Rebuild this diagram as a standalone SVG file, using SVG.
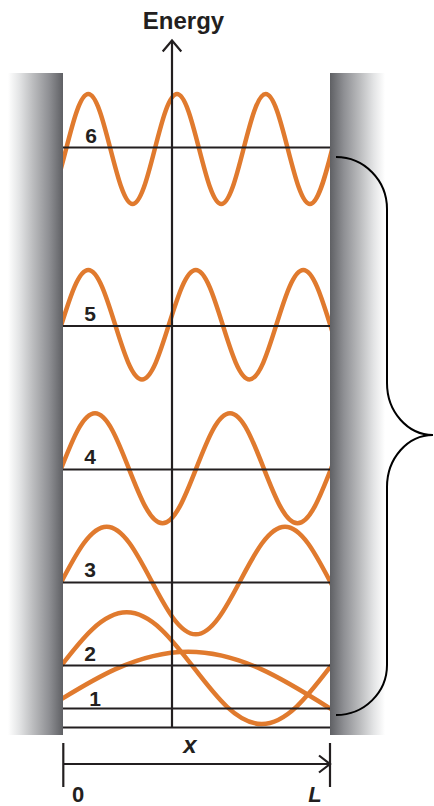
<svg xmlns="http://www.w3.org/2000/svg" width="434" height="806" viewBox="0 0 434 806">
<style>
.wave{fill:none;stroke:#e07a2e;stroke-width:4.5;stroke-linecap:butt}
.ln{fill:none;stroke:#231f20;stroke-width:2.2}
.num{font-family:"Liberation Sans",Arial,sans-serif;font-weight:bold;font-size:21px;fill:#231f20;text-anchor:middle}
.lab{font-family:"Liberation Sans",Arial,sans-serif;font-weight:bold;fill:#231f20;text-anchor:middle}
.brace{fill:none;stroke:#000;stroke-width:2}
</style>
<defs>
<linearGradient id="gl" x1="0" y1="0" x2="1" y2="0">
<stop offset="0" stop-color="#ffffff"/>
<stop offset="0.2" stop-color="#e4e5e6"/>
<stop offset="0.45" stop-color="#bcbdbf"/>
<stop offset="0.75" stop-color="#8e8f93"/>
<stop offset="1" stop-color="#5f6064"/>
</linearGradient>
<linearGradient id="gr" x1="0" y1="0" x2="1" y2="0">
<stop offset="0" stop-color="#5f6064"/>
<stop offset="0.25" stop-color="#8e8f93"/>
<stop offset="0.55" stop-color="#bcbdbf"/>
<stop offset="0.8" stop-color="#e4e5e6"/>
<stop offset="1" stop-color="#ffffff"/>
</linearGradient>
<clipPath id="box"><rect x="63" y="0" width="267" height="806"/></clipPath>
</defs>

<g id="walls">
<rect x="8" y="73" width="55" height="662" fill="url(#gl)"/>
<rect x="330" y="73" width="55" height="662" fill="url(#gr)"/>
</g>

<g id="waves" clip-path="url(#box)">
<path id="wave6" class="wave" d="M43.9,204 C51.9,204 58.9,177.2 66.1,149 S80.3,94 88.3,94 S103.2,120.8 110.45,149 S124.6,204 132.6,204 S147.6,177.2 154.8,149 S169,94 177,94 S191.9,120.8 199.15,149 S213.3,204 221.3,204 S236.3,177.2 243.5,149 S257.7,94 265.7,94 S280.6,120.8 287.85,149 S302,204 310,204 S325.1,177.2 332.2,149 S346.4,94 354.4,94"/>
<path id="wave5" class="wave" d="M34.5,379.4 C44.2,379.4 52.6,352.7 61.4,324.7 S78.6,270 88.3,270 S106.4,296.7 115.15,324.7 S132.3,379.4 142,379.4 S160.1,352.7 168.9,324.7 S186.1,270 195.8,270 S213.9,296.7 222.65,324.7 S239.8,379.4 249.5,379.4 S267.6,352.7 276.4,324.7 S293.6,270 303.3,270 S321.4,296.7 330.15,324.7 S347.3,379.4 357,379.4"/>
<path id="wave4" class="wave" d="M27.5,523.3 C39.7,523.3 50.2,496.5 61.25,468.3 S82.8,413.3 95,413.3 S117.7,440.1 128.75,468.3 S150.3,523.3 162.5,523.3 S185.2,496.5 196.25,468.3 S217.8,413.3 230,413.3 S252.7,440.1 263.75,468.3 S285.3,523.3 297.5,523.3 S320.2,496.5 331.25,468.3 S352.8,413.3 365,413.3"/>
<path id="wave3" class="wave" d="M17.5,634.3 C33.6,634.3 47.6,608.1 62.1,580.5 S90.6,526.7 106.7,526.7 S136.7,552.9 151.25,580.5 S179.7,634.3 195.8,634.3 S225.9,608.1 240.4,580.5 S268.9,526.7 285,526.7 S315.1,552.9 329.6,580.5 S358,634.3 374.2,634.3"/>
<path id="wave2" class="wave" d="M-8.3,724 C16.1,724 37.2,696.8 59.2,668.2 S102.3,612.3 126.7,612.3 S172.2,639.6 194.2,668.2 S237.3,724 261.7,724 S307.2,696.8 329.2,668.2 S372.3,612.3 396.7,612.3"/>
<path id="wave1" class="wave" d="M46.6,708.3 C92.8,679.3 137,651.7 188.3,651.7 S283.8,679.3 330,708.3 S376.2,737.3 376.2,737.3"/>
</g>

<g id="levels">
<line class="ln" x1="63" y1="147.5" x2="330" y2="147.5"/>
<line class="ln" x1="63" y1="326" x2="330" y2="326"/>
<line class="ln" x1="63" y1="469.5" x2="330" y2="469.5"/>
<line class="ln" x1="63" y1="582.5" x2="330" y2="582.5"/>
<line class="ln" x1="63" y1="665.5" x2="330" y2="665.5"/>
<line class="ln" x1="63" y1="708.5" x2="330" y2="708.5"/>
<line class="ln" x1="63" y1="727.5" x2="330" y2="727.5"/>
</g>

<g id="energy-axis">
<line class="ln" x1="172" y1="41" x2="172" y2="727.5"/>
<path class="ln" d="M162.7,51.5 L172,40.5 L181.3,51.5"/>
<text class="lab" x="183.5" y="29" font-size="24">Energy</text>
</g>

<g id="level-labels">
<text class="num" x="91" y="143">6</text>
<text class="num" x="90" y="321">5</text>
<text class="num" x="90" y="464">4</text>
<text class="num" x="90" y="577">3</text>
<text class="num" x="90" y="661">2</text>
<text class="num" x="95" y="706">1</text>
</g>

<g id="brace">
<path class="brace" d="M336,157 A51,52 0 0 1 387,209 L387,383 A46,52 0 0 0 433,435 A46,52 0 0 0 387,487 L387,665 A51,50 0 0 1 336,715"/>
</g>

<g id="x-axis">
<line class="ln" x1="63" y1="764" x2="330" y2="764"/>
<path class="ln" d="M319,755.5 L330,764 L319,772.5"/>
<line class="ln" x1="63.3" y1="743" x2="63.3" y2="787"/>
<line class="ln" x1="330" y1="743" x2="330" y2="787"/>
<text class="lab" x="190" y="753" font-size="24" font-style="italic">x</text>
<text class="lab" x="78" y="802" font-size="22">0</text>
<text class="lab" x="315" y="802" font-size="22" font-style="italic">L</text>
</g>
</svg>
